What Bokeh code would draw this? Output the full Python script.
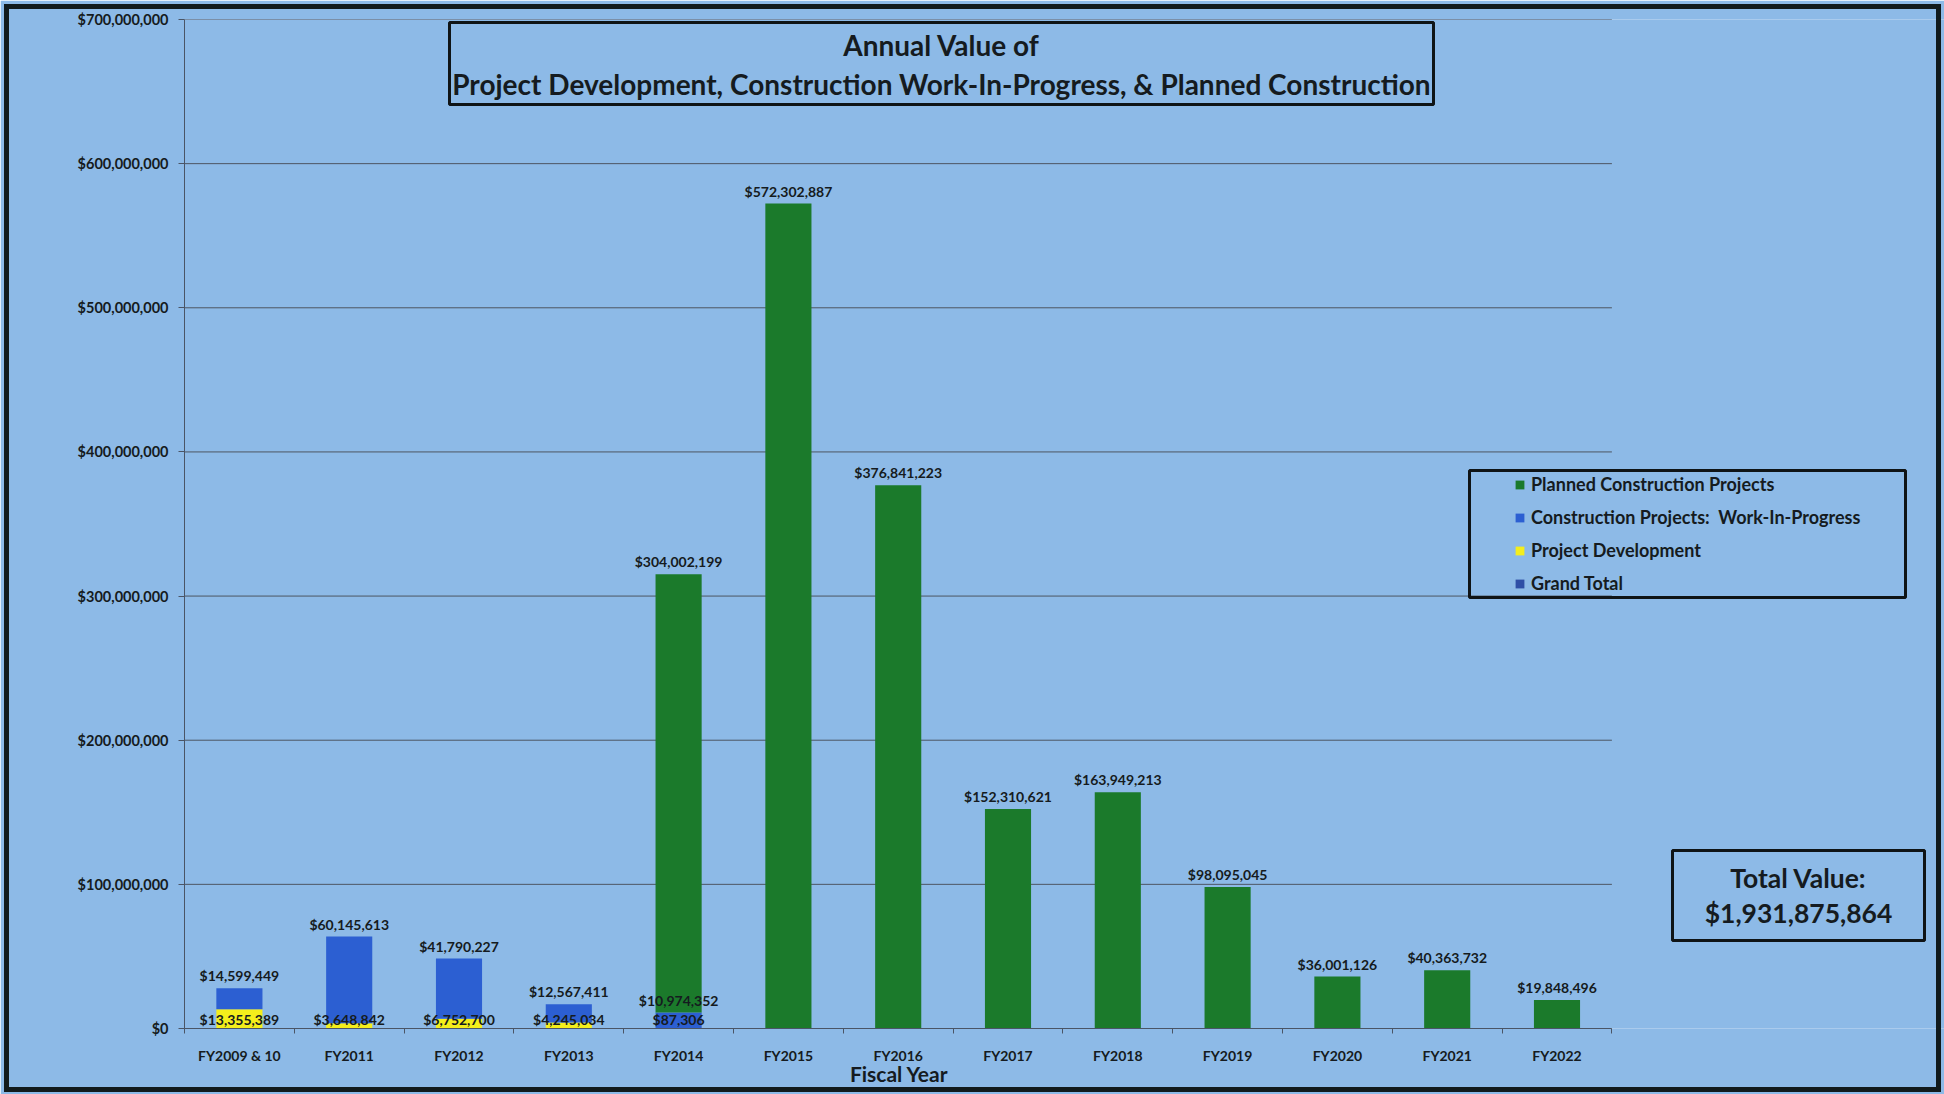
from bokeh.plotting import figure
from bokeh.models import (ColumnDataSource, FixedTicker, NumeralTickFormatter, Legend, LegendItem,
                          Label, BoxAnnotation, Range1d, InlineStyleSheet)
from bokeh.core.properties import value
from bokeh.embed import file_html
from bokeh.resources import INLINE

# ---- data ----
years = ["FY2009 & 10", "FY2011", "FY2012", "FY2013", "FY2014", "FY2015", "FY2016",
         "FY2017", "FY2018", "FY2019", "FY2020", "FY2021", "FY2022"]
project_development = [13355389, 3648842, 6752700, 4245034, 87306, 0, 0, 0, 0, 0, 0, 0, 0]
work_in_progress = [14599449, 60145613, 41790227, 12567411, 10974352, 0, 0, 0, 0, 0, 0, 0, 0]
planned_construction = [0, 0, 0, 0, 304002199, 572302887, 376841223, 152310621,
                        163949213, 98095045, 36001126, 40363732, 19848496]
y_ticks = [0, 100000000, 200000000, 300000000, 400000000, 500000000, 600000000, 700000000]
total_value = "$1,931,875,864"

FONT = "Lato"
TXT = "#151b20"
BG = "#8DBAE7"
GREEN = "#1B7A2B"
BLUE = "#2C5FD2"
YELLOW = "#F4EE1C"
DKBLUE = "#2F4FA6"
AXC = "#4a5566"

n = len(years)
xs = list(range(n))
grand_total = [project_development[i] + work_in_progress[i] + planned_construction[i] for i in xs]

src = ColumnDataSource(dict(x=xs, dev=project_development, wip=work_in_progress,
                            planned=planned_construction, total=grand_total))

W, H = 1944, 1094
FL, FT, FB = 184, 19, 1028
STEP = 109.8  # px per category
x_end = -0.5 + (W - FL) / STEP

p = figure(x_range=Range1d(-0.5, x_end), y_range=Range1d(0, y_ticks[-1]), width=W, height=H,
           output_backend="svg", toolbar_location=None,
           min_border_left=FL, min_border_right=0, min_border_top=FT, min_border_bottom=H - FB)
p.background_fill_color = BG
p.border_fill_color = BG
p.outline_line_color = None
p.stylesheets = [InlineStyleSheet(css=(
    ":host { position: relative; }"
    ":host::after { content: ''; position: absolute; left: 4px; top: 4px; right: 3px; bottom: 2px;"
    " border: 5px solid #111a1c; pointer-events: none; z-index: 1000; }"))]

rs = p.vbar_stack(["dev", "wip", "planned"], x="x", width=0.42, source=src,
                  fill_color=[YELLOW, BLUE, GREEN], line_color=None)
r_total = p.vbar(x="x", top="total", width=0, source=src, fill_color=DKBLUE, line_color=None)

# gridlines limited to the category area
p.ygrid.grid_line_color = None
p.xgrid.grid_line_color = None
p.segment(x0=[-0.5] * len(y_ticks), x1=[n - 0.5] * len(y_ticks), y0=y_ticks, y1=y_ticks,
          line_color="#4d5562", line_width=1, level="underlay")

# value labels
lx, ly, lt, bx, by, bt = [], [], [], [], [], []
for i in xs:
    d, w, g = project_development[i], work_in_progress[i], planned_construction[i]
    if d:
        bx.append(i); by.append(0); bt.append("${:,}".format(d))
    if w:
        lx.append(i); ly.append(d + w); lt.append("${:,}".format(w))
    if g:
        lx.append(i); ly.append(d + w + g); lt.append("${:,}".format(g))
p.text(x="x", y="y", text="t", source=ColumnDataSource(dict(x=lx, y=ly, t=lt)),
       text_font=value(FONT), text_font_style="bold", text_font_size=value("14px"),
       text_color=TXT, text_align="center", text_baseline="bottom", y_offset=-4)
p.text(x="x", y="y", text="t", source=ColumnDataSource(dict(x=bx, y=by, t=bt)),
       text_font=value(FONT), text_font_style="bold", text_font_size=value("14px"),
       text_color=TXT, text_align="center", text_baseline="bottom", y_offset=-1)

# axes
p.yaxis.ticker = FixedTicker(ticks=y_ticks)
p.yaxis.formatter = NumeralTickFormatter(format="$0,0")
p.yaxis.major_label_text_font = FONT
p.yaxis.major_label_text_font_style = "bold"
p.yaxis.major_label_text_font_size = "14.5px"
p.yaxis.major_label_text_color = TXT
p.yaxis.axis_line_color = AXC
p.yaxis.major_tick_line_color = AXC
p.yaxis.major_tick_out = 6
p.yaxis.major_tick_in = 0
p.yaxis.minor_tick_line_color = None
p.yaxis.major_label_standoff = 10

p.xaxis.bounds = (-0.5, n - 0.5)
p.xaxis.ticker = FixedTicker(ticks=xs, minor_ticks=[i - 0.5 for i in range(n + 1)])
p.xaxis.major_label_overrides = {i: years[i] for i in xs}
# axis title centred under the category area (frame is wider to hold the legend)
p.xaxis.axis_label = "Fiscal Year" + "\u2003" * 21
p.xaxis.axis_label_text_font = FONT
p.xaxis.axis_label_text_font_style = "bold"
p.xaxis.axis_label_text_font_size = "21px"
p.xaxis.axis_label_text_color = TXT
p.xaxis.axis_label_standoff = -6
p.xaxis.major_label_text_font = FONT
p.xaxis.major_label_text_font_style = "bold"
p.xaxis.major_label_text_font_size = "14px"
p.xaxis.major_label_text_color = TXT
p.xaxis.axis_line_color = AXC
p.xaxis.major_tick_line_color = None
p.xaxis.major_tick_out = 0
p.xaxis.major_tick_in = 0
p.xaxis.minor_tick_line_color = AXC
p.xaxis.minor_tick_out = 5
p.xaxis.minor_tick_in = 0
p.xaxis.major_label_standoff = 13

# boxes (screen units relative to frame bottom-left)
def sx(x):
    return x - FL

def sy(y):
    return FB - y

def box(l, r, t, b, lw=3):
    p.add_layout(BoxAnnotation(left=sx(l), right=sx(r), top=sy(t), bottom=sy(b),
                               left_units="screen", right_units="screen",
                               top_units="screen", bottom_units="screen",
                               fill_color=None, fill_alpha=0, line_color="#0f1416",
                               line_width=lw, line_alpha=1))

box(449, 1433, 22, 104)
box(1469, 1905, 470, 597)
box(1672, 1924, 850, 940)

p.add_layout(Label(x=sx(941), y=sy(64), x_units="screen", y_units="screen",
                   text="Annual Value of\nProject Development, Construction Work-In-Progress, & Planned Construction",
                   text_align="center", text_baseline="middle", text_font=FONT,
                   text_font_style="bold", text_font_size="28px", text_color=TXT,
                   text_line_height=1.13))
p.add_layout(Label(x=sx(1798), y=sy(895), x_units="screen", y_units="screen",
                   text="Total Value:\n" + total_value,
                   text_align="center", text_baseline="middle", text_font=FONT,
                   text_font_style="bold", text_font_size="26.5px", text_color=TXT,
                   text_line_height=1.12))

legend = Legend(items=[LegendItem(label="Planned Construction Projects", renderers=[rs[2]]),
                       LegendItem(label="Construction Projects:  Work-In-Progress", renderers=[rs[1]]),
                       LegendItem(label="Project Development", renderers=[rs[0]]),
                       LegendItem(label="Grand Total", renderers=[r_total])],
                location=(sx(1514), sy(594)), padding=0, margin=0, spacing=11,
                glyph_width=11, glyph_height=11, label_height=20, label_standoff=6,
                label_text_font=FONT, label_text_font_style="bold", label_text_font_size="18px",
                label_text_color=TXT, border_line_color=None, background_fill_alpha=0)
p.add_layout(legend, "center")

open("out.html", "w").write(file_html(p, INLINE))
